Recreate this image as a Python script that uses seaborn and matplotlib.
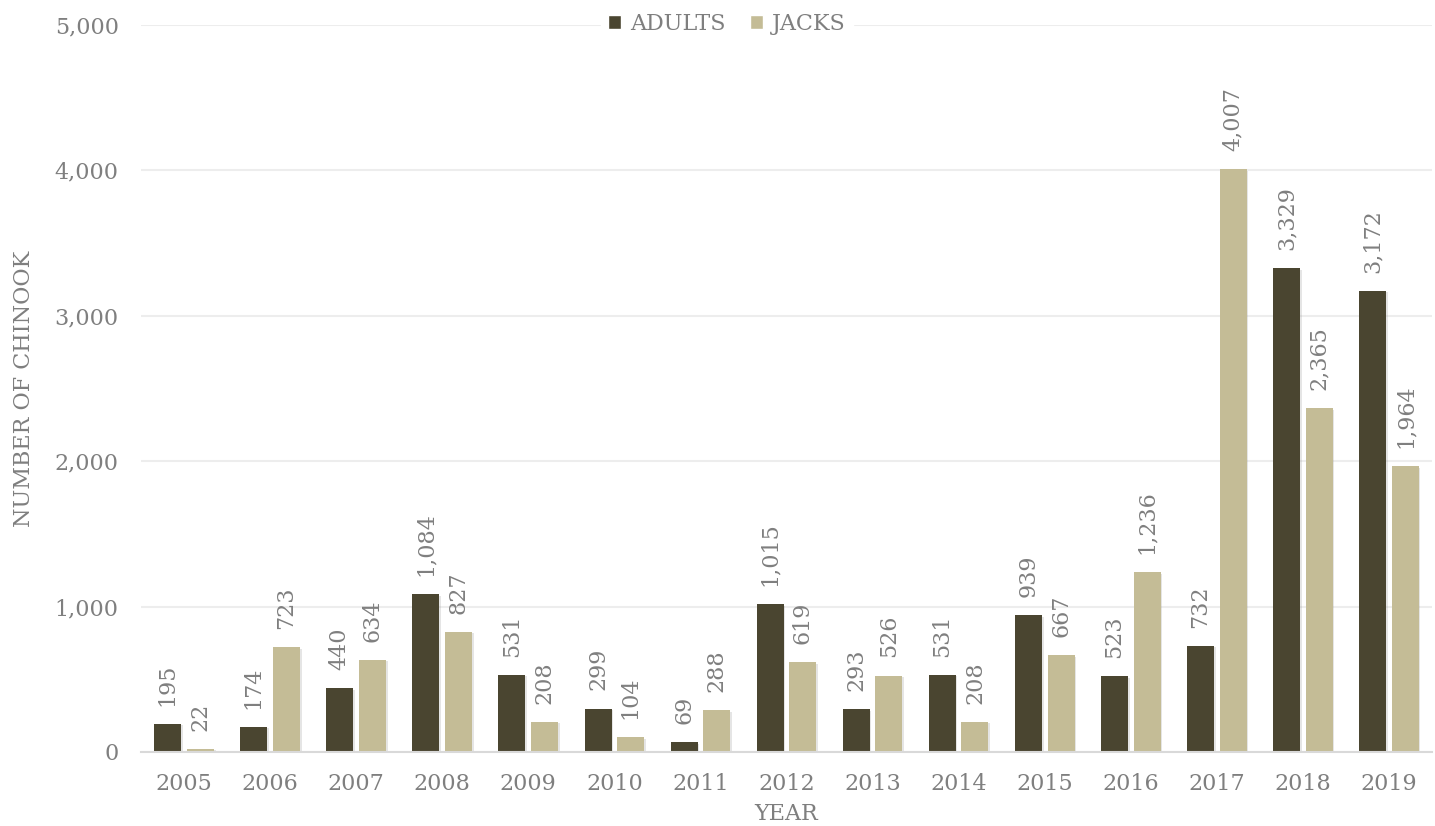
import matplotlib
matplotlib.use("Agg")
import matplotlib.pyplot as plt
import matplotlib.patheffects as pe
from matplotlib.ticker import FixedLocator, FuncFormatter
import seaborn as sns
import pandas as pd

years = ["2005", "2006", "2007", "2008", "2009", "2010", "2011", "2012",
         "2013", "2014", "2015", "2016", "2017", "2018", "2019"]
adults = [195, 174, 440, 1084, 531, 299, 69, 1015, 293, 531, 939, 523, 732, 3329, 3172]
jacks = [22, 723, 634, 827, 208, 104, 288, 619, 526, 208, 667, 1236, 4007, 2365, 1964]
series_names = ["ADULTS", "JACKS"]
colors = ["#4A4530", "#C4BC96"]

df = pd.DataFrame({
    "YEAR": years * 2,
    "COUNT": adults + jacks,
    "TYPE": [series_names[0]] * len(years) + [series_names[1]] * len(years),
})

sns.set_theme(style="white")
plt.rcParams["font.family"] = ["DejaVu Serif"]
text_color = "#7F7F7F"
fs = 16

fig = plt.figure(figsize=(14.35, 8.26), dpi=100)
ax = fig.add_axes([141 / 1435, 74 / 826, (1432 - 141) / 1435, (752 - 25) / 826])

sns.barplot(data=df, x="YEAR", y="COUNT", hue="TYPE", palette=colors,
            width=0.76, saturation=1, ax=ax, errorbar=None)

shadow = [pe.SimplePatchShadow(offset=(1.2, -1.2), shadow_rgbFace="#999999", alpha=0.25), pe.Normal()]
new_w = 0.314
for cont in ax.containers:
    for p in cont.patches:
        w = p.get_width()
        p.set_x(p.get_x() + (w - new_w) / 2)
        p.set_width(new_w)
        p.set_path_effects(shadow)
        p.set_linewidth(0)
    ax.bar_label(cont, labels=[f"{int(v):,}" for v in cont.datavalues],
                 rotation=90, padding=13, color=text_color, fontsize=fs)

ax.set_ylim(0, 5000)
ax.set_xlim(-0.5, len(years) - 0.5)
ax.yaxis.set_major_locator(FixedLocator([0, 1000, 2000, 3000, 4000, 5000]))
ax.yaxis.set_major_formatter(FuncFormatter(lambda v, _: f"{int(v):,}"))
ax.grid(axis="y", color="#EDEDED", linewidth=1.5)
ax.set_axisbelow(True)

for s in ["top", "right", "left"]:
    ax.spines[s].set_visible(False)
ax.spines["bottom"].set_color("#D9D9D9")
ax.spines["bottom"].set_linewidth(1.5)

ax.tick_params(axis="y", length=0, pad=16, labelsize=fs, labelcolor=text_color)
ax.tick_params(axis="x", which="major", length=0, pad=15, labelsize=fs, labelcolor=text_color)
ax.set_xticks([i - 0.5 for i in range(len(years) + 1)], minor=True)
ax.tick_params(axis="x", which="minor", length=9, width=1.5, direction="inout", color="#D9D9D9")

ax.set_xlabel("YEAR", fontsize=fs, color=text_color, labelpad=6)
ax.set_ylabel("NUMBER OF CHINOOK", fontsize=fs, color=text_color, labelpad=14)

handles, labels = ax.get_legend_handles_labels()
if ax.get_legend() is not None:
    ax.get_legend().remove()
leg = fig.legend(handles, labels, loc="center", bbox_to_anchor=(727 / 1435, 1 - 24 / 826),
                 bbox_transform=fig.transFigure, ncol=2, frameon=True, fancybox=False,
                 facecolor="white", edgecolor="white", framealpha=1, fontsize=fs,
                 handlelength=0.6, handleheight=0.6, handletextpad=0.4, columnspacing=1.1,
                 borderpad=0.3)
for t in leg.get_texts():
    t.set_color(text_color)

fig.savefig("out.png", dpi=100)
